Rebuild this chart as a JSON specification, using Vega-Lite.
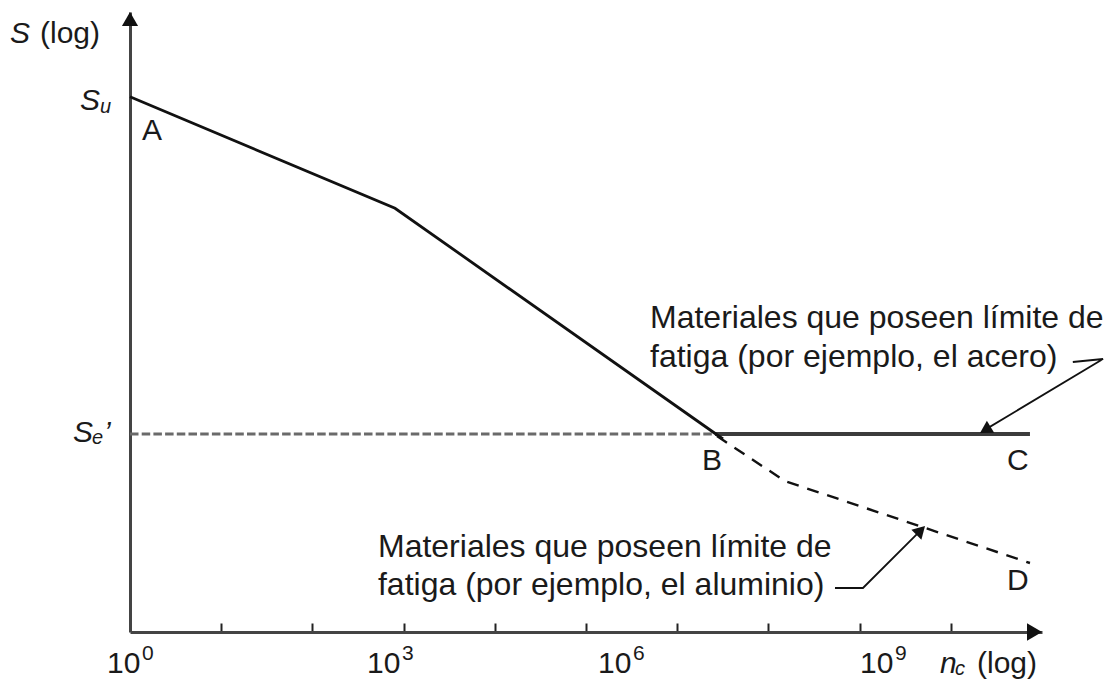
{
  "$schema": "https://vega.github.io/schema/vega-lite/v6.json",
  "width": 912,
  "height": 620,
  "autosize": {"type": "none"},
  "padding": {"left": 130, "top": 12, "right": 71, "bottom": 48},
  "background": "white",
  "config": {"view": {"stroke": null}, "font": "Liberation Sans"},
  "datasets": {
    "curves": [
      {"series": "se", "i": 0, "x": 0, "y": 3.194},
      {"series": "se", "i": 1, "x": 6.414, "y": 3.194},
      {"series": "alum", "i": 0, "x": 6.436, "y": 3.16},
      {"series": "alum", "i": 1, "x": 7.18, "y": 2.435},
      {"series": "alum", "i": 2, "x": 9.868, "y": 1.113},
      {"series": "steel", "i": 0, "x": 6.414, "y": 3.194},
      {"series": "steel", "i": 1, "x": 9.868, "y": 3.194},
      {"series": "main", "i": 0, "x": 0, "y": 8.634},
      {"series": "main", "i": 1, "x": 2.906, "y": 6.834},
      {"series": "main", "i": 2, "x": 6.502, "y": 3.113},
      {"series": "lead1", "i": 0, "x": 10.338, "y": 4.355},
      {"series": "lead1", "i": 1, "x": 10.669, "y": 4.403},
      {"series": "lead1", "i": 2, "x": 9.35, "y": 3.24},
      {"series": "lead2", "i": 0, "x": 7.73, "y": 0.71},
      {"series": "lead2", "i": 1, "x": 8.037, "y": 0.71},
      {"series": "lead2", "i": 2, "x": 8.67, "y": 1.64}
    ],
    "arrows": [
      {"name": "yaxis", "x": 0, "y": 9.887},
      {"name": "xaxis", "x": 9.918, "y": 0},
      {"name": "acero", "x": 9.378, "y": 3.26},
      {"name": "alum", "x": 8.67, "y": 1.64}
    ],
    "texts": [
      {"part": "label", "t": "(log)", "x": -0.987, "y": 9.5},
      {"part": "label", "t": "A", "x": 0.132, "y": 7.935},
      {"part": "label", "t": "B", "x": 6.272, "y": 2.613},
      {"part": "label", "t": "C", "x": 9.616, "y": 2.613},
      {"part": "label", "t": "D", "x": 9.616, "y": 0.677},
      {"part": "label", "t": "(log)", "x": 9.287, "y": -0.661},
      {"part": "label", "t": "10", "x": -0.252, "y": -0.661},
      {"part": "label", "t": "10", "x": 2.599, "y": -0.661},
      {"part": "label", "t": "10", "x": 5.132, "y": -0.661},
      {"part": "label", "t": "10", "x": 8.004, "y": -0.661},
      {"part": "symbol", "t": "S", "x": -1.316, "y": 9.5},
      {"part": "symbol", "t": "S", "x": -0.548, "y": 8.419},
      {"part": "symbol", "t": "S", "x": -0.625, "y": 3.065},
      {"part": "symbol", "t": "’", "x": -0.285, "y": 3.065},
      {"part": "symbol", "t": "n", "x": 8.882, "y": -0.661},
      {"part": "subscript", "t": "u", "x": -0.329, "y": 8.371},
      {"part": "subscript", "t": "e", "x": -0.417, "y": 3.032},
      {"part": "subscript", "t": "c", "x": 9.046, "y": -0.694},
      {"part": "exponent", "t": "0", "x": 0.132, "y": -0.452},
      {"part": "exponent", "t": "3", "x": 2.982, "y": -0.452},
      {"part": "exponent", "t": "6", "x": 5.515, "y": -0.452},
      {"part": "exponent", "t": "9", "x": 8.388, "y": -0.452},
      {"part": "note", "t": "Materiales que poseen límite de", "x": 5.702, "y": 4.903},
      {"part": "note", "t": "fatiga (por ejemplo, el acero)", "x": 5.702, "y": 4.274},
      {"part": "note", "t": "Materiales que poseen límite de", "x": 2.719, "y": 1.21},
      {"part": "note", "t": "fatiga (por ejemplo, el aluminio)", "x": 2.719, "y": 0.597}
    ]
  },
  "encoding": {
    "x": {"field": "x", "type": "quantitative", "scale": {"domain": [0, 10], "nice": false, "zero": false},
      "axis": {"domain": true, "domainColor": "#444444", "domainWidth": 3, "ticks": true, "values": [1, 2, 3, 4, 5, 6, 7, 8, 9], "tickSize": -9, "tickWidth": 2, "tickColor": "#222222", "labels": false, "grid": false, "title": null}},
    "y": {"field": "y", "type": "quantitative", "scale": {"domain": [0, 10], "nice": false, "zero": false},
      "axis": {"domain": true, "domainColor": "#444444", "domainWidth": 3, "ticks": false, "labels": false, "grid": false, "title": null}}
  },
  "layer": [
    {"data": {"name": "curves"}, "transform": [{"filter": "datum.series === 'se'"}],
      "mark": {"type": "line", "color": "#6a6a6a", "strokeWidth": 3, "strokeDash": [8.5, 3.2]},
      "encoding": {"order": {"field": "i"}}},
    {"data": {"name": "curves"}, "transform": [{"filter": "datum.series === 'alum'"}],
      "mark": {"type": "line", "color": "#111111", "strokeWidth": 2.4, "strokeDash": [12, 9]},
      "encoding": {"order": {"field": "i"}}},
    {"data": {"name": "curves"}, "transform": [{"filter": "datum.series === 'steel'"}],
      "mark": {"type": "line", "color": "#3c3c3c", "strokeWidth": 4},
      "encoding": {"order": {"field": "i"}}},
    {"data": {"name": "curves"}, "transform": [{"filter": "datum.series === 'main'"}],
      "mark": {"type": "line", "color": "#111111", "strokeWidth": 2.8},
      "encoding": {"order": {"field": "i"}}},
    {"data": {"name": "curves"}, "transform": [{"filter": "datum.series === 'lead1' || datum.series === 'lead2'"}],
      "mark": {"type": "line", "color": "#111111", "strokeWidth": 1.8},
      "encoding": {"order": {"field": "i"}, "detail": {"field": "series"}}},
    {"data": {"name": "arrows"}, "transform": [{"filter": "datum.name === 'yaxis'"}],
      "mark": {"type": "point", "shape": "triangle-up", "size": 260, "filled": true, "color": "#111111", "opacity": 1}},
    {"data": {"name": "arrows"}, "transform": [{"filter": "datum.name === 'xaxis'"}],
      "mark": {"type": "point", "shape": "triangle-right", "size": 300, "filled": true, "color": "#111111", "opacity": 1}},
    {"data": {"name": "arrows"}, "transform": [{"filter": "datum.name === 'acero'"}],
      "mark": {"type": "point", "shape": "triangle-up", "size": 200, "angle": 239, "filled": true, "color": "#111111", "opacity": 1}},
    {"data": {"name": "arrows"}, "transform": [{"filter": "datum.name === 'alum'"}],
      "mark": {"type": "point", "shape": "triangle-up", "size": 200, "angle": 45, "filled": true, "color": "#111111", "opacity": 1}},
    {"data": {"name": "texts"}, "transform": [{"filter": "datum.part === 'label'"}],
      "mark": {"type": "text", "align": "left", "baseline": "alphabetic", "fontSize": 30, "color": "#1a1a1a"},
      "encoding": {"text": {"field": "t"}}},
    {"data": {"name": "texts"}, "transform": [{"filter": "datum.part === 'symbol'"}],
      "mark": {"type": "text", "align": "left", "baseline": "alphabetic", "fontSize": 30, "fontStyle": "italic", "color": "#1a1a1a"},
      "encoding": {"text": {"field": "t"}}},
    {"data": {"name": "texts"}, "transform": [{"filter": "datum.part === 'subscript'"}],
      "mark": {"type": "text", "align": "left", "baseline": "alphabetic", "fontSize": 20, "fontStyle": "italic", "color": "#1a1a1a"},
      "encoding": {"text": {"field": "t"}}},
    {"data": {"name": "texts"}, "transform": [{"filter": "datum.part === 'exponent'"}],
      "mark": {"type": "text", "align": "left", "baseline": "alphabetic", "fontSize": 21, "color": "#1a1a1a"},
      "encoding": {"text": {"field": "t"}}},
    {"data": {"name": "texts"}, "transform": [{"filter": "datum.part === 'note'"}],
      "mark": {"type": "text", "align": "left", "baseline": "alphabetic", "fontSize": 32, "color": "#1a1a1a"},
      "encoding": {"text": {"field": "t"}}}
  ]
}
